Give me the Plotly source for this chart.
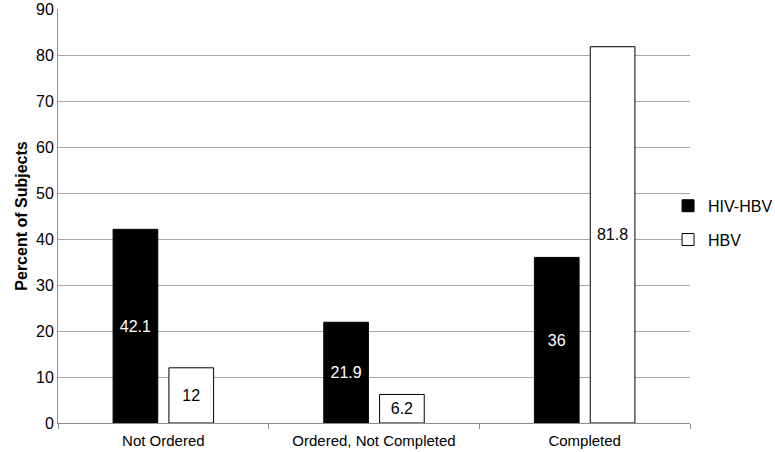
import plotly.graph_objects as go

categories = ["Not Ordered", "Ordered, Not Completed", "Completed"]
hiv_hbv = [42.1, 21.9, 36]
hbv = [12, 6.2, 81.8]
hiv_labels = ["42.1", "21.9", "36"]
hbv_labels = ["12", "6.2", "81.8"]

font_family = "Liberation Sans, Arial, sans-serif"

fig = go.Figure()
fig.add_trace(go.Bar(
    name="HIV-HBV", x=categories, y=hiv_hbv, text=hiv_labels, legendgroup="a",
    textposition="inside", insidetextanchor="middle",
    textfont=dict(color="white", size=16, family=font_family),
    marker=dict(color="black", line=dict(color="black", width=1)),
))
fig.add_trace(go.Bar(
    name="HBV", x=categories, y=hbv, text=hbv_labels, legendgroup="b",
    textposition="inside", insidetextanchor="middle",
    textfont=dict(color="black", size=16, family=font_family),
    marker=dict(color="white", line=dict(color="black", width=1)),
))

fig.update_layout(
    width=775, height=452,
    margin=dict(l=58, r=85, t=9, b=29, autoexpand=False),
    plot_bgcolor="white", paper_bgcolor="white",
    barmode="group", bargap=0.47, bargroupgap=0.2,
    font=dict(family=font_family, size=15, color="black"),
    showlegend=True,
    legend=dict(xref="container", yref="container", x=0.862, y=0.507,
                yanchor="middle", xanchor="left", bgcolor="rgba(0,0,0,0)",
                font=dict(size=16), itemwidth=30, tracegroupgap=10),
    uniformtext=dict(minsize=14, mode="show"),
)
fig.update_yaxes(
    range=[0, 90], tickmode="linear", tick0=0, dtick=10,
    showgrid=True, gridcolor="#a6a6a6", gridwidth=1,
    showline=True, linecolor="#8c8c8c", linewidth=1, zeroline=False,
    ticks="", tickfont=dict(size=16), automargin=False,
    title=dict(text="<b>Percent of Subjects</b>", font=dict(size=16), standoff=4),
)
fig.update_xaxes(
    showline=True, linecolor="#8c8c8c", linewidth=1, mirror=False,
    ticks="outside", tickcolor="#8c8c8c", ticklen=5, tickson="boundaries",
    tickfont=dict(size=15), automargin=False, ticklabelstandoff=4,
)

fig.write_html("out.html", config={"displayModeBar": False},
               post_script="document.body.style.margin='0';")
